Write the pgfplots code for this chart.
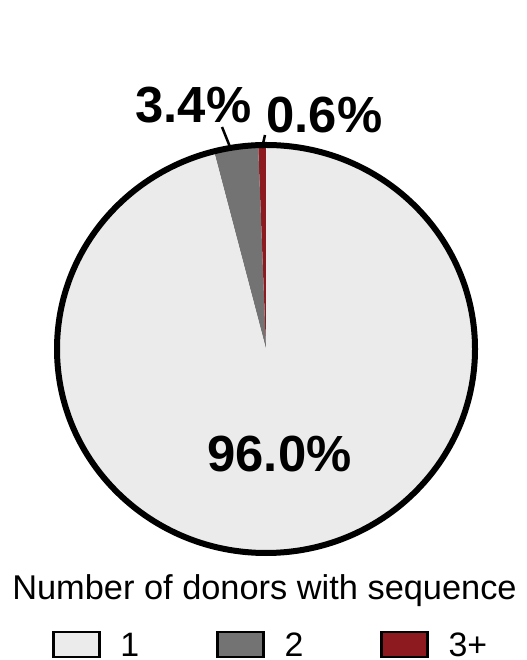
\documentclass[border=0pt]{standalone}
\usepackage{pgfplots}
\pgfplotsset{compat=1.18}
\usepackage{pgfplotstable}
\usepackage{fontspec}
\setmainfont{Liberation Sans}
\definecolor{c1}{HTML}{EBEBEB}
\definecolor{c2}{HTML}{737373}
\definecolor{c3}{HTML}{8C1A1E}

\pgfplotstableread{
donors share
1 96.0
2 3.4
3+ 0.6
}\piedata

\begin{document}
\begin{tikzpicture}
\pgfplotstablegetelem{0}{share}\of\piedata \let\sA\pgfplotsretval
\pgfplotstablegetelem{1}{share}\of\piedata \let\sB\pgfplotsretval
\pgfplotstablegetelem{2}{share}\of\piedata \let\sC\pgfplotsretval
\pgfmathsetmacro{\aC}{90+3.6*\sC}
\pgfmathsetmacro{\aB}{\aC+3.6*\sB}
\pgfmathsetmacro{\aA}{\aB+3.6*\sA}
\begin{axis}[
  scale only axis, width=526bp, height=660bp,
  xmin=0, xmax=526, ymin=0, ymax=660,
  hide axis, clip=false,
  legend columns=3,
  legend style={at={(axis cs:52,15.5)}, anchor=west, draw=none, fill=none, inner sep=0pt,
     nodes={inner sep=0pt, text depth=0pt, font=\fontsize{34}{36}\selectfont},
     /tikz/every even column/.append style={column sep=77bp}},
  legend image code/.code={\draw[line width=2.5bp,#1] (0bp,-12.5bp) rectangle (46bp,12.5bp); \path[draw=none,fill=none] (0bp,0bp) -- (67bp,0bp);},
]
\coordinate (LL) at (rel axis cs:0,0);
\coordinate (UR) at (rel axis cs:1,1);
% slices
\fill[c3] (axis cs:266,311) -- ++(90:209bp and 204bp) arc[start angle=90, end angle=\aC, x radius=209bp, y radius=204bp] -- cycle;
\fill[c2] (axis cs:266,311) -- ++(\aC:209bp and 204bp) arc[start angle=\aC, end angle=\aB, x radius=209bp, y radius=204bp] -- cycle;
\fill[c1] (axis cs:266,311) -- ++(\aB:209bp and 204bp) arc[start angle=\aB, end angle=\aA, x radius=209bp, y radius=204bp] -- cycle;
\draw[line width=6bp] (axis cs:266,311) ellipse [x radius=209bp, y radius=204bp];
% leader lines
\draw[line width=2.5bp] (axis cs:230,513) -- (axis cs:222,533);
\draw[line width=2.5bp] (axis cs:262,512) -- (axis cs:265,525);
% labels
\node[anchor=base, font=\bfseries\fontsize{51}{51}\selectfont] at (axis cs:193.5,537) {3.4\%};
\node[anchor=base, font=\bfseries\fontsize{51}{51}\selectfont] at (axis cs:324.5,527) {0.6\%};
\node[anchor=base, font=\bfseries\fontsize{51}{51}\selectfont] at (axis cs:279.5,188) {96.0\%};
\node[anchor=base, font=\fontsize{34.5}{36}\selectfont] at (axis cs:264.5,60) {Number of donors with sequence};
% legend
\addlegendimage{draw=black, fill=c1}
\addlegendentry{1}
\addlegendimage{draw=black, fill=c2}
\addlegendentry{2}
\addlegendimage{draw=black, fill=c3}
\addlegendentry{3+}
\end{axis}
\pgfresetboundingbox
\path[use as bounding box] (LL) rectangle (UR);
\end{tikzpicture}
\end{document}
